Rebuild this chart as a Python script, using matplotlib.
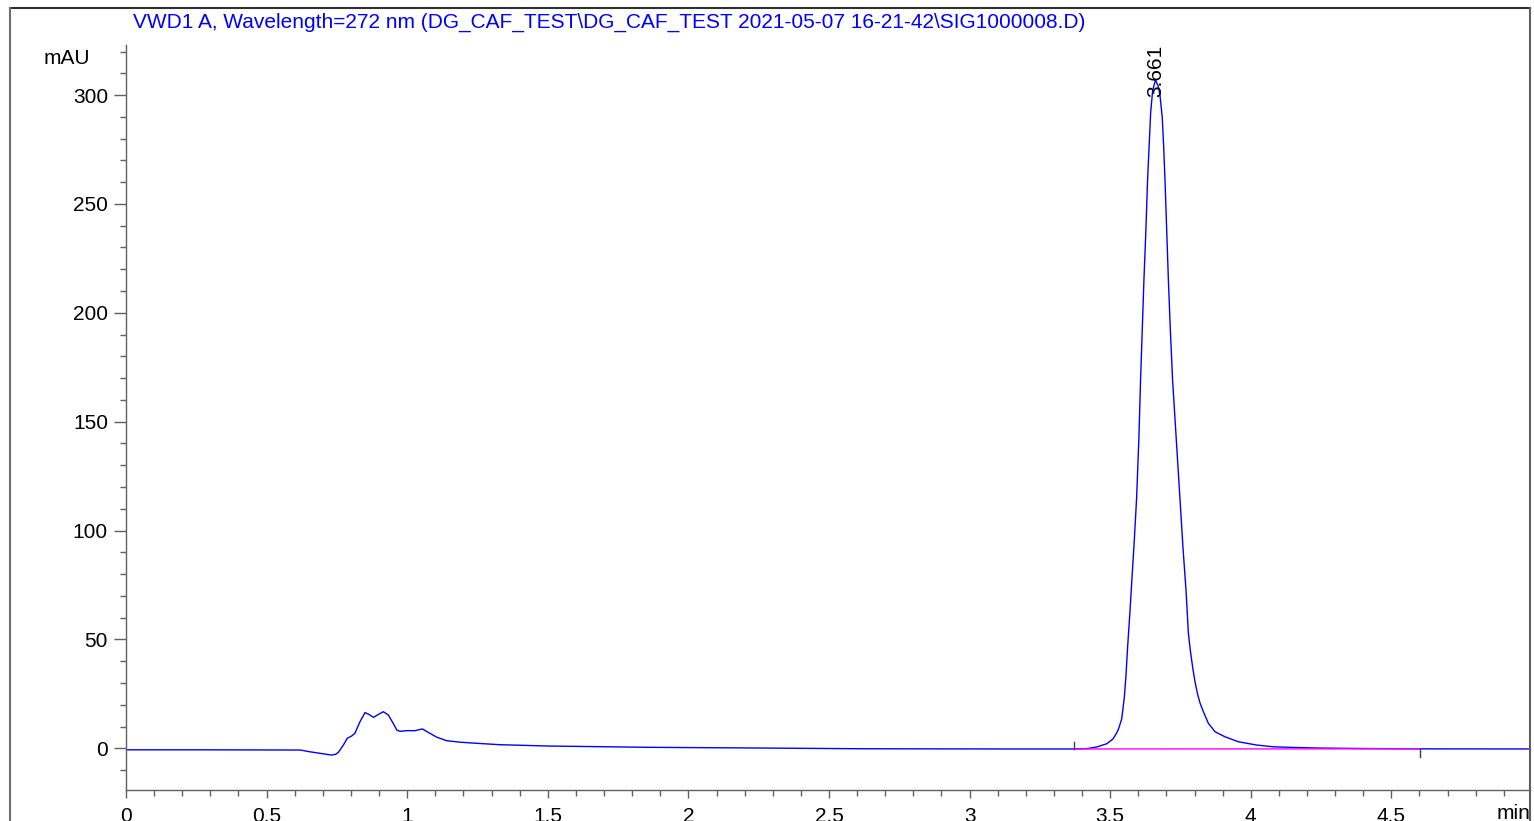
import matplotlib
matplotlib.use('Agg')
import matplotlib.pyplot as plt
from matplotlib.ticker import MultipleLocator, FuncFormatter
from matplotlib.lines import Line2D

plt.rcParams['font.family'] = ['Liberation Sans', 'DejaVu Sans']

# signal trace (min, mAU)
time_min = [0.0, 0.30, 0.62, 0.654, 0.690, 0.731, 0.745, 0.755, 0.773, 0.787,
            0.803, 0.814, 0.832, 0.850, 0.865, 0.880, 0.898, 0.915, 0.933, 0.950,
            0.963, 0.974, 0.998, 1.028, 1.054, 1.075, 1.105, 1.140, 1.188, 1.259,
            1.33, 1.50, 1.86, 2.23, 2.61, 3.10, 3.37, 3.42, 3.452, 3.488,
            3.510, 3.523, 3.530, 3.541, 3.550, 3.556, 3.562, 3.570, 3.577, 3.586,
            3.594, 3.602, 3.608, 3.614, 3.620, 3.627, 3.633, 3.639, 3.644, 3.651,
            3.661, 3.671, 3.677, 3.685, 3.690, 3.695, 3.701, 3.707, 3.714, 3.722,
            3.735, 3.748, 3.759, 3.770, 3.778, 3.785, 3.793, 3.801, 3.810, 3.819,
            3.829, 3.849, 3.873, 3.908, 3.956, 4.021, 4.079, 4.15, 4.25, 4.40,
            4.60, 4.993]
signal_mau = [-0.7, -0.7, -0.8, -1.6, -2.3, -3.1, -2.8, -1.9, 1.5, 4.6,
              5.7, 6.9, 12.2, 16.4, 15.5, 14.2, 15.6, 16.8, 15.3, 11.5,
              8.4, 7.8, 8.1, 8.1, 8.9, 7.3, 5.1, 3.5, 2.8, 2.2,
              1.65, 1.05, 0.45, 0.15, -0.2, -0.3, -0.3, -0.1, 0.6, 2.1,
              4.3, 7.0, 9.0, 13.5, 23.0, 33.0, 46.5, 62.0, 77.0, 96.0,
              115.0, 142.0, 169.0, 192.0, 215.0, 238.0, 261.0, 278.0, 292.0, 302.0,
              307.0, 304.0, 300.0, 290.0, 277.0, 261.0, 238.0, 215.0, 192.0, 169.0,
              142.0, 115.0, 92.0, 72.0, 53.0, 45.0, 37.5, 31.0, 25.3, 21.0,
              17.6, 11.5, 7.6, 5.3, 3.0, 1.5, 0.7, 0.4, 0.1, -0.1,
              -0.25, -0.3]

# integration baseline
base_t = [3.371, 4.602]
base_v = [-0.3, -0.25]

peak_rt = 3.661
peak_label = '3.661'
peak_top = 299

W, H = 1534, 821
fig = plt.figure(figsize=(W / 100, H / 100), dpi=100)
ax = fig.add_axes([126 / W, 31 / H, (1530 - 126) / W, (790 - 45) / H])

ax.plot(time_min, signal_mau, color='#0000ff', lw=1.0)
ax.plot(base_t, base_v, color='#ff00ff', lw=1.0)
# start / end marks of the integrated peak
ax.plot([base_t[0], base_t[0]], [base_v[0], base_v[0] + 3.3], color='#404040', lw=1.0)
ax.plot([base_t[1], base_t[1]], [base_v[1], base_v[1] - 3.6], color='#404040', lw=1.0)

ax.text(peak_rt, peak_top, peak_label, rotation=90, ha='center', va='bottom', fontsize=15)

ax.set_xlim(0, 4.993)
ax.set_ylim(-19.15, 323)

ax.spines['top'].set_visible(False)
ax.spines['right'].set_visible(False)
for s in ['left', 'bottom']:
    ax.spines[s].set_color('#606060')
    ax.spines[s].set_linewidth(1.0)

ax.xaxis.set_major_locator(MultipleLocator(0.5))
ax.xaxis.set_minor_locator(MultipleLocator(0.1))
ax.yaxis.set_major_locator(MultipleLocator(50))
ax.yaxis.set_minor_locator(MultipleLocator(10))
ax.xaxis.set_major_formatter(FuncFormatter(lambda v, p: '%g' % v))
ax.yaxis.set_major_formatter(FuncFormatter(lambda v, p: '%g' % v))

ax.tick_params(axis='x', which='major', length=6, width=1, color='#606060', labelsize=15, pad=6)
ax.tick_params(axis='x', which='minor', length=4, width=1, color='#606060')
ax.tick_params(axis='y', which='major', length=9, width=1, color='#606060', labelsize=15, pad=4)
ax.tick_params(axis='y', which='minor', length=4.5, width=1, color='#606060')

fig.text(133 / W, 1 - 22 / H,
         'VWD1 A, Wavelength=272 nm (DG_CAF_TEST\\DG_CAF_TEST 2021-05-07 16-21-42\\SIG1000008.D)',
         color='#0000ff', fontsize=15, ha='left', va='center')
fig.text(67 / W, 1 - 58 / H, 'mAU', fontsize=15, ha='center', va='center')
fig.text(1497 / W, 1 - 813 / H, 'min', fontsize=15, ha='left', va='center')

# outer frame
fig.add_artist(Line2D([10 / W, 1530 / W], [1 - 8 / H, 1 - 8 / H], transform=fig.transFigure,
                      color='#303030', lw=1.5))
fig.add_artist(Line2D([10 / W, 10 / W], [0, 1 - 8 / H], transform=fig.transFigure,
                      color='#707070', lw=1.5))
fig.add_artist(Line2D([1530 / W, 1530 / W], [0, 1 - 8 / H], transform=fig.transFigure,
                      color='#606060', lw=1.5))

fig.savefig('out.png', dpi=100)
